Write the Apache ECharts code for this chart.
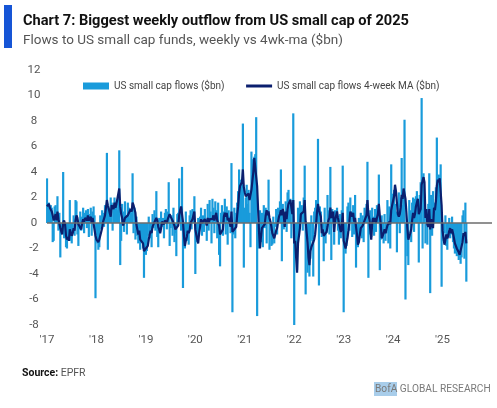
<!DOCTYPE html>
<html lang="en">
<head>
    <meta charset="UTF-8">
    <title>Chart 7</title>
    <style>
        html, body { margin: 0; padding: 0; background: #fff; }
        #main { width: 497px; height: 408px; }
    </style>
</head>
<body>
<div id="main"></div>
<script src="https://cdn.jsdelivr.net/npm/echarts/dist/echarts.min.js"></script>
<script>
    // weekly flows to US small cap funds ($bn), one array per year
    var flows2017 = [3.5,1.5,1.6,0.8,1.4,1.2,-1.5,-1.4,1.3,1.4, 0.5,2.1,-0.6,0.8,-2.7,-0.8,-0.5,4.0,-1.2,-0.9,
        -1.9,-2.0,-0.6,-1.2,1.8,-1.4,-1.6,-0.8,0.6,-1.0, 1.8,1.7,-0.9,-1.8,-0.5,0.9,-0.6,0.5,1.2,-0.8,
        0.8,1.0,-0.4,1.1,-1.1,0.7,1.2,-1.0,0.9,1.3, 0.6,-5.9];
    var flows2018 = [-1.0,-1.6,-2.1,-1.9,0.6,-0.5,1.0,0.8,-0.3,1.4, 0.9,5.5,-2.1,1.2,0.8,2.0,1.6,-0.6,1.3,2.0,
        1.2,1.7,1.0,1.9,5.7,-3.3,-1.4,1.5,0.9,-0.7, 1.7,0.6,-0.9,1.6,1.2,0.4,1.1,0.8,3.9,-0.8,
        1.2,-1.3,0.5,-1.0,-1.6,-0.4,-2.1,-0.9,-1.5,-2.0, -4.3,-1.2];
    var flows2019 = [-2.5,-2.2,-1.0,0.5,-0.8,-1.2,-1.9,0.7,-0.4,1.0, -0.6,2.5,-1.1,-1.9,0.4,-0.7,0.9,-0.3,0.4,-1.2,
        0.8,1.1,-0.5,0.9,3.2,-1.8,-0.4,0.6,-1.0,1.2, -1.5,-0.8,-2.6,0.7,0.8,3.5,1.2,-0.6,4.4,-5.1,
        -1.6,-2.0,0.9,-0.8,-1.4,-1.7,0.6,1.0,-0.5,1.1, 0.7,2.1];
    var flows2020 = [-4.0,-1.5,-1.3,0.4,-0.9,0.5,1.2,-1.0,0.6,-0.7, 1.1,0.3,-1.4,1.5,-0.6,1.8,0.9,-1.6,1.9,1.2,
        -0.8,1.7,1.0,-1.2,1.6,-2.5,-3.4,0.8,1.4,-1.0, 0.9,1.9,-0.9,1.3,-1.7,1.0,0.5,-0.8,4.7,-7.0,
        -0.9,1.2,-1.2,0.8,1.6,2.5,4.2,3.4,2.1,3.0, 7.8,-3.5];
    var flows2021 = [1.2,2.0,3.0,1.5,2.6,0.8,-1.9,5.6,5.0,4.6, 5.2,5.4,8.3,-7.3,-2.0,-1.8,1.0,-1.5,0.8,-1.9,
        1.4,-0.4,1.2,-1.6,0.9,3.4,-2.1,-0.6,-1.8,-1.7, 0.5,-1.6,-0.3,1.1,-0.9,1.2,0.8,1.7,4.2,-3.0,
        1.5,-0.5,0.8,1.7,-0.7,2.4,2.6,1.3,1.9,-1.2, 1.6,8.6];
    var flows2022 = [-8.1,-1.5,-2.4,-3.7,1.2,-1.0,1.7,0.8,1.4,-0.6, 2.0,4.5,-5.6,-0.8,-3.9,-1.3,-4.2,-2.8,0.6,-1.4,
        -4.2,0.9,1.2,1.8,0.5,6.6,-4.9,1.3,0.9,-1.1, -0.7,-3.0,1.2,-1.6,-0.8,2.2,1.0,-0.9,4.4,-2.9,
        1.1,0.8,-1.7,1.0,0.9,1.2,-0.6,-1.7,0.7,-1.2, 1.0,4.5];
    var flows2023 = [-7.0,-0.8,-2.4,-1.8,1.3,1.6,-0.6,2.0,0.9,-1.1, 1.4,-0.9,2.2,-3.5,-1.2,-1.9,0.4,-1.0,0.8,-1.2,
        0.6,-1.5,1.2,0.7,1.5,4.8,-4.3,-0.9,1.0,-1.1, 1.2,0.5,-1.0,1.1,-0.7,1.4,0.9,3.8,-3.7,-1.3,
        0.6,-0.9,-1.6,0.7,-1.4,-0.8,1.8,-1.6,1.3,-2.0, 4.6,1.6];
    var flows2024 = [2.3,2.6,1.5,0.9,-2.3,1.2,2.4,-0.8,2.0,5.1, 1.4,2.2,8.1,-6.0,-1.2,-2.6,-3.3,1.8,1.0,-1.5,
        1.6,2.0,-0.7,1.9,2.1,2.5,1.4,-3.1,2.2,3.2, 9.8,-2.0,3.9,1.2,-1.6,0.8,-1.7,1.5,3.9,-5.5,
        2.2,-1.0,2.5,0.9,1.6,2.8,6.7,2.4,3.8,2.2, 4.6,-5.0];
    var flows2025 = [-1.0,-1.4,-0.8,0.6,-1.8,-2.1,-0.5,0.4,-1.2,-0.9, 0.5,-1.5,-2.0,-2.4,-1.2,-2.6,-2.2,-2.9,-2.5,-3.2,
        -2.7,0.6,1.0,-2.8,1.6,-4.6];

    // 4-week moving average ($bn)
    var ma2017 = [1.3,1.4,1.5,1.2,1.3,0.9,0.6,0.2,0.4,0.7, 0.2,0.9,0.3,0.2,-0.4,-0.3,-0.9,0.0,0.2,-0.1,
        -1.0,-1.3,-1.1,-1.4,-0.5,-0.6,-1.0,-0.8,-0.4,-0.6, 0.2,0.6,0.4,-0.1,-0.1,-0.2,-0.5,0.0,0.3,0.1,
        0.4,0.5,0.2,0.6,0.2,0.1,0.5,0.0,0.4,0.5, 0.4,-1.0];
    var ma2018 = [-1.3,-1.4,-1.5,-1.3,-1.2,-0.7,-0.4,0.1,0.2,0.6, 0.7,1.8,1.4,1.4,1.3,0.5,1.4,1.3,1.1,1.6,
        1.2,1.5,1.5,1.4,2.7,1.3,0.7,0.4,-0.2,0.1, 0.4,0.3,0.5,0.6,0.7,0.6,1.1,0.9,1.6,1.4,
        1.3,0.8,-0.1,-0.2,-0.9,-0.6,-1.3,-1.2,-1.2,-1.6, -2.2,-2.1];
    var ma2019 = [-2.0,-2.1,-1.8,-1.3,-0.9,-0.6,-0.8,-0.3,-0.1,0.0, -0.2,0.4,0.2,-0.3,-0.5,-0.8,-0.4,0.1,0.2,-0.1,
        0.2,0.3,0.0,0.3,0.4,0.7,0.5,0.4,0.2,0.0, -0.2,-0.5,-0.4,-0.6,-0.2,0.6,1.0,1.3,1.2,0.1,
        -1.0,-1.8,-1.4,-1.1,-0.6,-0.8,-0.6,0.0,0.0,0.3, 0.6,0.9];
    var ma2020 = [-0.5,-0.9,-1.3,-1.6,-0.8,-0.3,0.3,0.0,0.1,0.0, 0.3,0.3,-0.2,0.4,0.0,0.3,0.4,0.2,0.3,0.6,
        0.2,0.5,0.8,0.2,0.3,-0.2,-0.9,-0.9,-0.9,-0.5, 0.5,0.8,0.5,0.8,0.2,0.4,0.3,-0.3,0.9,-0.7,
        -0.8,-0.5,-0.5,-0.3,0.6,1.3,2.3,2.9,3.0,3.2, 4.2,2.8];
    var ma2021 = [2.4,2.1,2.2,2.0,2.3,1.8,1.9,2.6,3.3,4.0, 5.1,5.1,5.2,2.9,1.1,-0.7,-2.0,-1.1,-0.4,-0.4,
        -0.3,-0.1,0.6,1.0,0.6,0.9,0.4,0.1,-0.3,-0.8, -1.0,-1.2,-0.9,-0.6,-0.4,0.1,0.5,0.7,1.0,0.6,
        1.1,0.6,-0.3,0.9,0.3,1.1,1.5,1.4,1.8,1.2, 0.7,1.8];
    var ma2022 = [-1.6,-1.4,-2.7,-3.9,-1.6,-1.5,-0.4,0.7,0.7,0.6, 0.9,1.8,0.1,0.0,-1.5,-2.7,-3.3,-2.2,-1.9,-2.0,
        -1.9,-1.3,-0.9,-0.1,0.9,1.5,1.0,0.9,0.5,-0.8, -0.5,-1.0,-0.9,-0.9,-0.7,-0.3,0.2,0.4,1.2,0.4,
        0.4,0.9,-0.7,0.2,0.3,0.9,0.4,0.0,-0.1,-0.7, -0.3,0.8];
    var ma2023 = [-1.4,-1.5,-2.0,-2.0,-1.2,-0.6,0.1,0.9,1.0,0.5, 0.8,0.1,0.4,-0.3,-0.9,-1.7,-1.5,-0.9,-0.4,-0.3,
        -0.2,-0.3,0.2,0.3,0.6,1.8,0.7,0.3,0.3,-1.3, 0.0,0.4,0.1,0.4,0.0,0.4,0.7,1.5,0.6,-0.1,
        -1.2,-1.0,-0.8,-0.5,-0.8,-0.8,-0.2,-0.2,0.1,-0.1, 1.0,1.4];
    var ma2024 = [1.4,2.1,3.0,2.5,1.6,0.7,0.5,0.7,1.2,2.2, 1.9,2.7,2.8,1.9,0.8,-0.4,-1.3,-1.4,-0.8,-0.5,
        0.2,0.8,0.4,0.7,1.3,1.4,1.9,0.7,0.8,1.1, 3.0,3.3,3.6,3.2,0.4,1.1,-0.1,-0.3,1.1,-0.5,
        0.3,-0.1,-0.4,1.2,1.0,1.7,2.9,3.4,3.2,3.5, 3.5,1.4];
    var ma2025 = [-0.6,-1.2,-1.7,-1.6,-0.9,-1.2,-1.0,-0.6,-0.4,-0.8, -0.5,-0.8,-1.2,-1.6,-1.8,-2.0,-2.1,-2.3,-2.5,-2.5,
        -2.4,-1.5,-0.8,-1.0,-0.7,-1.6];

    var years = [2017, 2018, 2019, 2020, 2021, 2022, 2023, 2024, 2025];
    var flowsByYear = [flows2017, flows2018, flows2019, flows2020, flows2021, flows2022, flows2023, flows2024, flows2025];
    var maByYear = [ma2017, ma2018, ma2019, ma2020, ma2021, ma2022, ma2023, ma2024, ma2025];
    var yTicks = [-8, 12, 2];

    var barData = [];
    var lineData = [];
    for (var k = 0; k < years.length; k++) {
        for (var i = 0; i < flowsByYear[k].length; i++) {
            var t = years[k] + i / 52;
            barData.push([t, flowsByYear[k][i]]);
            lineData.push([t, maByYear[k][i]]);
        }
    }

    var myChart = echarts.init(document.getElementById('main'));
    var font = 'Roboto, sans-serif';
    var option = {
        animation: false,
        textStyle: { fontFamily: font },
        title: {
            text: 'Chart 7: Biggest weekly outflow from US small cap of 2025',
            subtext: 'Flows to US small cap funds, weekly vs 4wk-ma ($bn)',
            left: 18,
            top: 9,
            itemGap: 5,
            textStyle: { fontSize: 14.6, fontWeight: 'bold', color: '#111', fontFamily: font },
            subtextStyle: { fontSize: 13.5, color: '#555', fontFamily: font }
        },
        legend: {
            left: 78,
            top: 76,
            itemGap: 20,
            itemWidth: 26,
            itemHeight: 7,
            textStyle: { fontSize: 10, color: '#444', fontFamily: font },
            data: [
                { name: 'US small cap flows ($bn)', icon: 'rect' },
                {
                    name: 'US small cap flows 4-week MA ($bn)',
                    itemStyle: { color: 'rgba(0,0,0,0)', borderWidth: 0, opacity: 0 },
                    lineStyle: { width: 3, color: '#0b1f6e' }
                }
            ]
        },
        grid: { left: 47, right: 5, top: 70, bottom: 83 },
        xAxis: {
            type: 'value',
            min: 2017,
            max: 2026,
            interval: 1,
            splitLine: { show: false },
            axisLine: { show: false },
            axisTick: { show: false },
            axisLabel: {
                margin: 9,
                fontSize: 11.5,
                color: '#555',
                formatter: function (v) {
                    return v >= 2026 ? '' : "'" + String(v).slice(2);
                }
            }
        },
        yAxis: {
            type: 'value',
            min: yTicks[0],
            max: yTicks[1],
            interval: yTicks[2],
            splitLine: { show: false },
            axisLine: { show: false },
            axisTick: { show: false },
            axisLabel: { align: 'center', margin: 13, fontSize: 11.5, color: '#555' }
        },
        series: [
            {
                name: 'US small cap flows ($bn)',
                type: 'bar',
                data: barData,
                barWidth: 2.2,
                itemStyle: { color: '#199bdb' },
                markLine: {
                    silent: true,
                    symbol: 'none',
                    label: { show: false },
                    lineStyle: { color: '#6d6d6d', width: 1.5, type: 'solid' },
                    data: [{ yAxis: 0 }]
                }
            },
            {
                name: 'US small cap flows 4-week MA ($bn)',
                type: 'line',
                data: lineData,
                symbol: 'none',
                lineStyle: { color: '#0b1f6e', width: 2.2 },
                itemStyle: { color: '#0b1f6e' }
            }
        ],
        graphic: [
            { type: 'rect', left: 4, top: 5, shape: { width: 8, height: 43 }, style: { fill: '#1655d6' } },
            {
                type: 'text', left: 22, top: 368,
                style: {
                    text: '{b|Source:} EPFR',
                    font: '10.5px ' + font,
                    fill: '#555',
                    rich: { b: { fontWeight: 'bold', fill: '#111', fontSize: 10.5, fontFamily: font } }
                }
            },
            { type: 'rect', left: 374, top: 382, shape: { width: 23, height: 14 }, style: { fill: '#a8cdea' } },
            {
                type: 'text', left: 375, top: 384,
                style: { text: 'BofA GLOBAL RESEARCH', font: '10.2px ' + font, fill: '#7a7a7a' }
            }
        ]
    };
    myChart.setOption(option);
</script>
</body>
</html>
